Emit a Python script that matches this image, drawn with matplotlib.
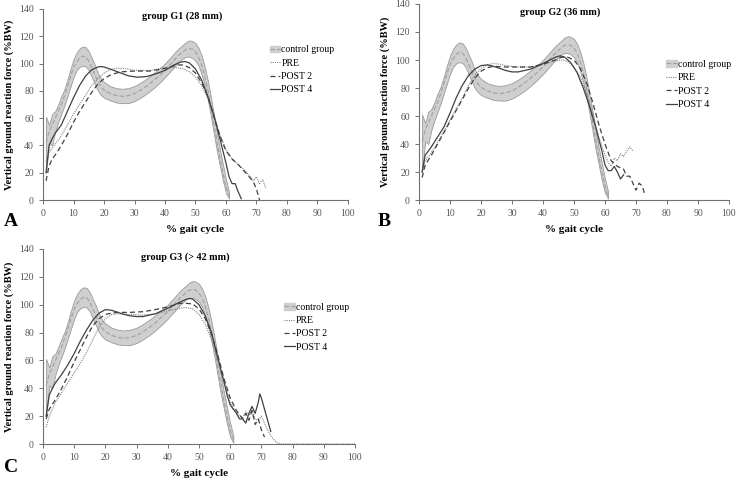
import numpy as np
import matplotlib
matplotlib.use("Agg")
import matplotlib.pyplot as plt
from matplotlib.patches import Patch
from matplotlib.lines import Line2D

plt.rcParams['font.family'] = ['Liberation Serif', 'DejaVu Serif']

# control group (mean and band), same in every panel
ctrl_x = [1, 2, 3, 4, 5, 6, 7, 8, 9, 10, 11, 12, 13, 14, 15, 16, 17, 18, 19, 20, 22, 24, 26, 28, 30,
          32, 34, 36, 38, 40, 42, 44, 46, 47, 48, 49, 50, 51, 52, 53, 54, 55, 56, 57, 58, 59, 60, 61]
ctrl_mean = [42, 50, 55, 60, 65, 70, 76, 83, 90, 97, 101, 104, 105.5, 105, 102, 97, 92, 87, 83, 80.5,
             78, 76.5, 76, 76.5, 78, 80.5, 83.5, 87, 91, 95, 100, 105, 109, 110.5, 111, 110.5, 108.5,
             105, 99, 91, 81, 69, 56, 43, 31, 20, 10, 3]
ctrl_hi = [61, 55, 63, 65, 70, 76, 81, 88, 96, 103, 108, 111, 112.5, 112, 109, 104, 99, 93, 89, 86.5,
           83.5, 82, 81.5, 82, 83.5, 86, 89, 92.5, 96, 100, 105, 110, 114, 116, 117, 116.5, 115, 111.5,
           106, 98, 88, 76, 63, 50, 37, 26, 15, 6]
ctrl_lo = [20, 42, 40, 50, 57, 63, 69, 76, 83, 90, 95, 97.5, 98.5, 98, 95, 90, 85, 80, 77, 75, 73,
           71.5, 71, 71, 72.5, 75, 78, 81.5, 85.5, 90, 95, 100, 104, 105, 105, 104, 102, 98.5, 92, 84,
           74, 62, 49, 36, 25, 14, 5, 1]

# group G1
g1_pre_x = [1, 2, 3, 4, 6, 8, 10, 12, 14, 16, 18, 20, 22, 24, 26, 28, 30, 35, 40, 44, 46, 48, 50, 52,
            54, 56, 58, 60, 62, 64, 66, 68, 69, 70, 71, 72, 73]
g1_pre = [28, 35, 38, 41, 47, 55, 63, 70, 77, 84, 89, 93, 95.5, 96.5, 96.5, 96, 95, 95, 97, 97, 96,
          94, 90, 84, 75, 62, 48, 37, 30, 26, 22, 17, 14, 17, 12, 15, 9]
g1_p2_x = [1, 2, 3, 4, 6, 8, 10, 12, 14, 16, 18, 20, 22, 24, 26, 30, 35, 40, 44, 46, 48, 50, 52, 54,
           56, 58, 60, 62, 64, 66, 68, 69, 70, 71]
g1_p2 = [14, 25, 30, 33, 40, 48, 57, 65, 72, 79, 85, 89, 91.5, 93, 94, 94.5, 94.5, 96.5, 99, 99, 97,
         93, 86, 76, 62, 47, 36, 30, 26, 21, 16, 13, 8, 0]
g1_p4_x = [1, 2, 3, 4, 6, 8, 10, 12, 14, 16, 18, 19, 20, 22, 25, 28, 31, 34, 37, 40, 43, 45, 46.5,
           48, 50, 52, 54, 56, 58, 60, 61, 62, 63, 64, 65]
g1_p4 = [20, 40, 45, 49, 55, 65, 75, 84, 91, 95.5, 97.5, 97.8, 97.5, 96, 93.5, 91, 90, 90.5, 92.5, 95,
         99, 101, 101.5, 100.5, 96, 88, 76, 62, 45, 27, 17, 12, 12, 6, 1]

# group G2
g2_pre_x = [1, 2, 4, 6, 8, 10, 12, 14, 16, 18, 20, 22, 24, 26, 28, 32, 36, 40, 44, 46, 48, 50, 52, 54,
            56, 58, 60, 61, 62, 63, 64, 65, 66, 67, 68, 69]
g2_pre = [20, 28, 34, 41, 49, 57, 65, 73, 82, 89, 94, 96.5, 97.5, 97, 96, 95, 95, 97, 99.5, 100, 99,
          95, 88, 77, 62, 45, 32, 27, 24, 30, 28, 33, 31, 35, 38, 35]
g2_p2_x = [1, 2, 4, 6, 8, 10, 12, 14, 16, 18, 20, 22, 24, 28, 32, 36, 40, 44, 46, 48, 50, 52, 54, 56,
           58, 60, 62, 64, 66, 67, 68, 69, 70, 71, 72, 73]
g2_p2 = [16, 25, 32, 40, 48, 56, 64, 72, 80, 87, 92, 94.5, 95.5, 95, 95, 95, 97, 100, 102, 102, 100,
         94, 84, 70, 54, 40, 28, 24, 22, 17, 17, 12, 7, 12, 10, 3]
g2_p4_x = [1, 2, 4, 6, 8, 10, 12, 14, 16, 18, 20, 22, 24, 26, 28, 30, 32, 36, 40, 44, 45.5, 47, 49,
           51, 53, 55, 57, 59, 60, 61, 62, 63, 64, 65, 66]
g2_p4 = [20, 32, 38, 45, 52, 62, 73, 82, 89, 93.5, 96, 96.5, 95.5, 94, 92.5, 91.5, 91.5, 93.5, 97.5,
         102, 103, 102, 98, 91, 80, 67, 52, 35, 25, 21, 21, 24, 20, 15, 18]

# group G3
g3_pre_x = [1, 2, 4, 6, 8, 10, 12, 14, 16, 18, 20, 22, 24, 28, 32, 36, 40, 44, 46, 48, 50, 52, 54, 56,
            58, 60, 62, 64, 65, 66, 67, 68, 69, 70, 71, 72, 73, 74, 75, 76, 80, 90, 100]
g3_pre = [12, 20, 30, 37, 44, 51, 58, 66, 75, 84, 90, 93, 93.5, 93, 92.5, 93.5, 95.5, 97.5, 98, 97,
          93, 86, 75, 60, 44, 30, 22, 19, 23, 21, 24, 18, 17, 20, 15, 10, 6, 3, 1, 0, 0, 0, 0]
g3_p2_x = [1, 2, 4, 6, 8, 10, 12, 14, 16, 18, 20, 22, 24, 28, 32, 36, 40, 44, 46, 48, 50, 52, 54, 56,
           58, 60, 62, 64, 65, 66, 67, 68, 69, 70, 71]
g3_p2 = [18, 25, 32, 40, 49, 59, 68, 77, 85, 90, 93, 94, 94.5, 94.5, 95, 96.5, 98.5, 101, 101, 100.5,
         97, 90, 79, 64, 47, 33, 24, 18, 22, 17, 24, 14, 18, 10, 5]
g3_p4_x = [1, 2, 3, 4, 6, 8, 10, 12, 14, 16, 18, 20, 22, 24, 26, 28, 30, 32, 36, 40, 44, 46, 47, 48,
           50, 52, 54, 56, 58, 59, 60, 62, 63, 64, 65, 66, 67, 68, 69, 69.5, 70, 71, 72, 73]
g3_p4 = [20, 35, 40, 44, 50, 57, 65, 74, 82, 89, 94, 96.5, 96, 94.5, 93, 92, 91.5, 91.5, 93.5, 97.5,
         102, 104, 104.5, 104, 100, 92, 80, 62, 45, 35, 28, 22, 18, 18, 15, 22, 27, 22, 30, 36, 33, 25,
         17, 9]

panels = [
    ("group G1 (28 mm)", "A", g1_pre_x, g1_pre, g1_p2_x, g1_p2, g1_p4_x, g1_p4),
    ("group G2 (36 mm)", "B", g2_pre_x, g2_pre, g2_p2_x, g2_p2, g2_p4_x, g2_p4),
    ("group G3 (> 42 mm)", "C", g3_pre_x, g3_pre, g3_p2_x, g3_p2, g3_p4_x, g3_p4),
]

W, H = 738, 478
fig = plt.figure(figsize=(W / 100, H / 100), dpi=100)

# axes boxes in pixels: left, top, right, bottom
boxes = [(43, 9, 348, 200), (419, 4, 729, 200), (43, 249, 355, 444)]
legend_pos = [(0.73, 0.83), (0.784, 0.735), (0.76, 0.745)]
letter_pos = [(4, 222), (378, 222), (4, 468)]

for i, (title, letter, px, py, p2x, p2y, p4x, p4y) in enumerate(panels):
    l, t, r, b = boxes[i]
    ax = fig.add_axes([l / W, 1 - b / H, (r - l) / W, (b - t) / H])

    ax.fill_between(ctrl_x, ctrl_lo, ctrl_hi, facecolor="#cfcfcf", edgecolor="#9a9a9a", lw=0.6)
    ax.plot(ctrl_x, ctrl_mean, color="#a0a0a0", ls=(0, (4, 2)), lw=0.8)
    ax.plot(px, py, color="#808080", ls=(0, (1, 1)), lw=0.8)
    ax.plot(p2x, p2y, color="#404040", ls=(0, (4, 2.5)), lw=0.9)
    ax.plot(p4x, p4y, color="#404040", ls="-", lw=0.9)

    ax.set_xlim(0, 100)
    ax.set_ylim(0, 140)
    ax.set_xticks(np.arange(0, 101, 10))
    ax.set_yticks(np.arange(0, 141, 20))
    for s in ["top", "right"]:
        ax.spines[s].set_visible(False)
    for s in ["left", "bottom"]:
        ax.spines[s].set_color("#707070")
        ax.spines[s].set_linewidth(0.8)
    ax.tick_params(colors="#707070", labelcolor="#555555", labelsize=7, length=3, width=0.7)

    ax.set_xlabel("% gait cycle", fontsize=8, fontweight="bold", labelpad=5)
    ax.set_ylabel("Vertical ground reaction force (%BW)", fontsize=7.5, fontweight="bold", labelpad=4)
    ax.text(0.455, 0.985, title, transform=ax.transAxes, ha="center", va="top",
            fontsize=7.3, fontweight="bold")

    handles = [
        (Patch(facecolor="#cfcfcf", edgecolor="#cfcfcf"),
         Line2D([], [], color="#a0a0a0", ls=(0, (4, 2)), lw=0.8)),
        Line2D([], [], color="#808080", ls=(0, (1, 1)), lw=0.8),
        Line2D([], [], color="#404040", ls=(0, (4, 2.5)), lw=0.9),
        Line2D([], [], color="#404040", ls="-", lw=0.9),
    ]
    ax.legend(handles, ["control group", "PRE", "POST 2", "POST 4"], loc="upper left",
              bbox_to_anchor=legend_pos[i], frameon=False, fontsize=7,
              handlelength=1.1, handletextpad=0.1, borderaxespad=0, labelspacing=0.45)

    fig.text(letter_pos[i][0] / W, 1 - letter_pos[i][1] / H, letter, fontsize=14,
             fontweight="bold", ha="left", va="center")

fig.savefig("out.png", dpi=100)
